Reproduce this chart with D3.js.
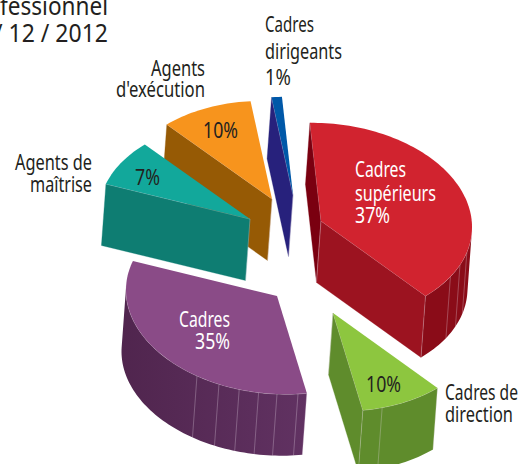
<!DOCTYPE html>
<html><head><meta charset="utf-8">
<style>html,body{margin:0;padding:0;background:#fff;overflow:hidden}svg{display:block}text{font-family:"Noto Sans","Open Sans",sans-serif}</style>
<script src="https://cdn.jsdelivr.net/npm/d3@7"></script>
</head><body><div id="c"></div>
<script>
// DATA
const categories = ["Cadres supérieurs","Cadres de direction","Cadres","Agents de maîtrise","Agents d'exécution","Cadres dirigeants"];
const shares = [37,10,35,7,10,1];
// angular width of each wedge as actually drawn in the picture (percent of the full turn)
const drawnShares = [39,9,33,7.9,10,1.1];
const titleLines = ["fessionnel","/ 12 / 2012"];
// rib positions on the curved outer walls, in degrees round the ellipse
const ribsRed = [31,23,15];
const ribsGreen = [71];
const ribsPurple = [82,90,97,104.5,112.6,122];
const ribs = [ribsRed,ribsGreen,ribsPurple,[],[],[]];

// STYLE / LAYOUT
const W=522,H=464;
const topColors=["#d1232f","#8dc63f","#8a4b87","#12a89b","#f7941d","#0058a8"];
const arcColors=[["#8a0c18","#8a0c18"],["#5f8c2c","#5f8c2c"],["#50254e","#613262"],["#0e7d72","#0e7d72"],["#965a05","#965a05"],["#27217c","#27217c"]];
const startWall=["#7a0010","#5f8c2c","#50254e","#0e7d72","#965a05","#27217c"];
const endWall=["#9c1320","#5f8c2c","#50254e","#0e7d72","#965a05","#27217c"];
const apexes=[[321,221],[333,313],[277,296],[250,219],[272,199],[293,195]];
const drawOrder=[5,4,3,0,2,1];
const depth=[-4.5,61.5];
const rx=d3.scaleLinear([-1,1],[-151,151]);
const ry=d3.scaleLinear([-1,1],[-98,98]);
const shear=6;
const toT=a=>a-Math.PI/2;
const P=t=>[rx(Math.cos(t)),ry(Math.sin(t))+shear*Math.cos(t)];
const rad=d=>d*Math.PI/180;
const silhouette=[rad(2.4),rad(182.4)];

const start=rad(-4.2);
const arcs=d3.pie().sort(null).value(d=>d).startAngle(start).endAngle(start+2*Math.PI)(drawnShares);

const svg=d3.select("#c").append("svg").attr("width",W).attr("height",H).attr("viewBox",`0 0 ${W} ${H}`);
const defs=svg.append("defs");
const line=d3.line();
const cross=(a,b)=>a[0]*b[1]-a[1]*b[0];
const add=(a,b)=>[a[0]+b[0],a[1]+b[1]];
const samples=(a,b)=>{const n=Math.max(2,Math.ceil(Math.abs(b-a)/rad(1.5)));return d3.range(n+1).map(i=>a+(b-a)*i/n)};
const ribColor="#e8dbe6";

drawOrder.forEach(i=>{
  const g=svg.append("g").datum(arcs[i]);
  const A=apexes[i];
  const t0=toT(arcs[i].startAngle),t1=toT(arcs[i].endAngle),mid=(t0+t1)/2;
  const pt=t=>add(A,P(t));
  const bt=p=>add(p,depth);
  const inner=P(mid);
  // straight cut walls
  [[t0,startWall[i]],[t1,endWall[i]]].forEach(([t,col])=>{
    const e=P(t);
    if(Math.sign(cross(e,depth))===Math.sign(cross(e,inner)))return;
    const p=pt(t);
    g.append("path").attr("d",line([A,p,bt(p),bt(A)])+"Z").attr("fill",col).attr("stroke",col).attr("stroke-width",.3);
    g.append("path").attr("d",line([A,p])).attr("fill","none").attr("stroke",ribColor).attr("stroke-opacity",.55).attr("stroke-width",.6);
    g.append("path").attr("d",line([A,bt(A)])).attr("fill","none").attr("stroke",ribColor).attr("stroke-opacity",.5).attr("stroke-width",.6);
  });
  // curved outer wall: keep the part of the arc facing the viewer
  [-2*Math.PI,0,2*Math.PI].forEach(k=>{
    const a=t0+k,b=t1+k;
    const lo=Math.max(a,silhouette[0]),hi=Math.min(b,silhouette[1]);
    if(hi<=lo)return;
    const ts=samples(lo,hi);
    const up=ts.map(pt),dn=ts.map(t=>bt(pt(t))).reverse();
    const gid="wall"+i;
    const lg=defs.append("linearGradient").attr("id",gid).attr("x1",1).attr("x2",0).attr("y1",0).attr("y2",0);
    lg.append("stop").attr("offset",0).attr("stop-color",arcColors[i][1]);
    lg.append("stop").attr("offset",1).attr("stop-color",arcColors[i][0]);
    g.append("path").attr("d",line(up.concat(dn))+"Z").attr("fill",`url(#${gid})`);
    g.append("path").attr("d",line(up)).attr("fill","none").attr("stroke",ribColor).attr("stroke-opacity",.6).attr("stroke-width",.6);
    ribs[i].concat(b<=silhouette[1]?[b*180/Math.PI]:[],a>=silhouette[0]?[a*180/Math.PI]:[]).forEach(d=>{
      const p=pt(rad(d));
      g.append("path").attr("d",line([p,bt(p)])).attr("fill","none").attr("stroke",ribColor).attr("stroke-opacity",.5).attr("stroke-width",.6);
    });
  });
  // top face
  g.append("path").attr("d",line([A].concat(samples(t0,t1).map(pt)))+"Z").attr("fill",topColors[i]);
});

// TEXT
const dark="#231f20";
function label(str,x,base,width,size,col,anchor){
  const t=svg.append("text").attr("x",x).attr("y",base).attr("font-size",size).attr("fill",col||dark)
    .attr("text-anchor",anchor||"start").text(str);
  if(width)t.attr("textLength",width).attr("lengthAdjust","spacingAndGlyphs");
}
const pct=i=>shares[i]+"%";
label(titleLines[0],108,15,108,25,dark,"end");
label(titleLines[1],108,42,114,25,dark,"end");
label("Cadres",265,32,49,22);
label("dirigeants",265,58.5,77,22);
label(pct(5),265,85,26,22);
label("Agents",205,76,54,22,dark,"end");
label("d'exécution",205,97,89,22,dark,"end");
label("Agents de",92,170,77,22,dark,"end");
label("maîtrise",92,192,62,22,dark,"end");
label(pct(4),203,138,35,22);
label(pct(3),135,185,25,22);
label("Cadres",355,177,51,22,"#fff");
label("supérieurs",355,200.5,81,22,"#fff");
label(pct(0),355,223,35,22,"#fff");
label(pct(1),366,392,35,22);
label("Cadres de",445,400,73,22);
label("direction",445,422,68,22);
label("Cadres",179,327,51,22,"#fff");
label(pct(2),195,349,35,22,"#fff");
</script></body></html>
